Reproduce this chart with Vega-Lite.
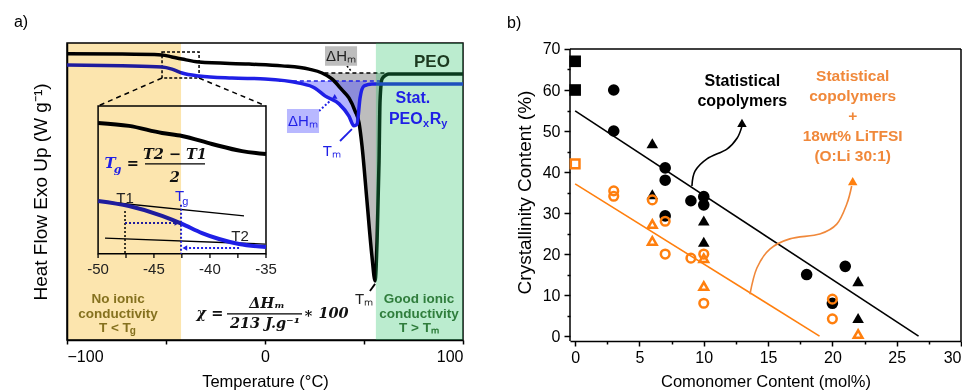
{
  "$schema": "https://vega.github.io/schema/vega-lite/v6.json",
  "background": "white",
  "padding": {"left": 13, "top": 13, "right": 0, "bottom": 0},
  "spacing": 36,
  "resolve": {"scale": {"shape": "independent", "color": "independent"}},
  "config": {
    "font": "Liberation Sans",
    "view": {"stroke": "black", "strokeWidth": 1.5},
    "axis": {"domainColor": "black", "domainWidth": 1.5, "tickColor": "black", "tickWidth": 1.5, "labelColor": "black", "titleColor": "black", "titleFontWeight": "normal", "grid": false}
  },
  "hconcat": [
    {
      "width": 396,
      "height": 297,
      "layer": [
        {
          "data": {"values": [{"x": -84.3, "x2": 0.5, "y": 78.8, "y2": 29.0}]},
          "mark": {"type": "rect", "fill": "white", "stroke": "black", "strokeWidth": 1.5},
          "encoding": {
            "x": {"field": "x", "type": "quantitative", "scale": {"domain": [-100, 100], "nice": false, "zero": false},
                  "axis": {"title": "Temperature (°C)", "values": [-100, -50, 0, 50, 100], "labelExpr": "datum.value % 100 === 0 ? datum.label : ''", "tickSize": 4, "labelFontSize": 16, "titleFontSize": 16.5, "labelPadding": 4, "titlePadding": 9}},
            "x2": {"field": "x2"},
            "y": {"field": "y", "type": "quantitative", "scale": {"domain": [0, 100], "nice": false, "zero": false},
                  "axis": {"title": "Heat Flow Exo Up  (W g⁻¹)", "labels": false, "ticks": false, "titleFontSize": 19, "titlePadding": 17}},
            "y2": {"field": "y2"}
          }
        },
        {
          "data": {"values": [{"x": -123.2, "y": 107.1, "t": "a)"}]},
          "mark": {"type": "text", "fontSize": 16, "color": "black", "align": "center", "baseline": "middle"},
          "encoding": {"x": {"field": "x", "type": "quantitative"}, "y": {"field": "y", "type": "quantitative"}, "text": {"field": "t"}}
        },
        {
          "data": {"values": [
            {"x": -84.3}, {"x": -70.2}, {"x": -56.1}, {"x": -42.0}, {"x": -27.8}, {"x": -13.7}, {"x": 0.5}
          ]},
          "mark": {"type": "rule", "color": "black", "strokeWidth": 1.3},
          "encoding": {"x": {"field": "x", "type": "quantitative"}, "y": {"datum": 29.0}, "y2": {"datum": 27.6}}
        },
        {
          "data": {"values": [{"x": -52, "x2": -33.3, "y": 97.0, "y2": 88.2}]},
          "mark": {"type": "rect", "fillOpacity": 0, "stroke": "black", "strokeWidth": 1.5, "strokeDash": [3, 2]},
          "encoding": {"x": {"field": "x", "type": "quantitative"}, "x2": {"field": "x2"}, "y": {"field": "y", "type": "quantitative"}, "y2": {"field": "y2"}}
        },
        {
          "data": {"values": [{"x": -52, "y": 88.2, "x2": -84.3, "y2": 78.8}, {"x": -33.3, "y": 88.2, "x2": 0.5, "y2": 78.8}]},
          "mark": {"type": "rule", "color": "black", "strokeWidth": 1.5, "strokeDash": [5, 4]},
          "encoding": {"x": {"field": "x", "type": "quantitative"}, "x2": {"field": "x2"}, "y": {"field": "y", "type": "quantitative"}, "y2": {"field": "y2"}}
        },
        {
          "data": {"values": [
            {"x": 28.8, "y": 89.9}, {"x": 33.8, "y": 87.9}, {"x": 38.9, "y": 84.2}, {"x": 42.4, "y": 81.5}, {"x": 45.5, "y": 77.1},
            {"x": 47.5, "y": 73.1}, {"x": 49.0, "y": 65.3}, {"x": 51.5, "y": 46.8}, {"x": 54.0, "y": 28.3}, {"x": 55.6, "y": 19.9},
            {"x": 56.6, "y": 33.3}, {"x": 57.6, "y": 60.3}, {"x": 58.1, "y": 80.5}, {"x": 59.1, "y": 87.9}, {"x": 60.6, "y": 89.9}
          ]},
          "mark": {"type": "area", "color": "#bdbdbd", "opacity": 1},
          "encoding": {"x": {"field": "x", "type": "quantitative"}, "y": {"field": "y", "type": "quantitative"}, "y2": {"datum": 89.9}}
        },
        {
          "data": {"values": [
            {"x": 7.1, "y": 87.2}, {"x": 17.2, "y": 86.5}, {"x": 25.3, "y": 84.8}, {"x": 30.3, "y": 82.2}, {"x": 37.4, "y": 79.5},
            {"x": 42.4, "y": 75.4}, {"x": 44.9, "y": 72.1}, {"x": 46.5, "y": 72.7}, {"x": 48.0, "y": 81.5}, {"x": 50.0, "y": 85.5}, {"x": 51.5, "y": 87.0}
          ]},
          "mark": {"type": "area", "color": "#4b4bff", "opacity": 0.42},
          "encoding": {"x": {"field": "x", "type": "quantitative"}, "y": {"field": "y", "type": "quantitative"}, "y2": {"datum": 87.2}}
        },
        {
          "data": {"values": [{"x": 30, "x2": 61, "y": 89.9}]},
          "mark": {"type": "rule", "color": "black", "strokeWidth": 1.5, "strokeDash": [4, 3]},
          "encoding": {"x": {"field": "x", "type": "quantitative"}, "x2": {"field": "x2"}, "y": {"field": "y", "type": "quantitative"}}
        },
        {
          "data": {"values": [{"x": 7, "x2": 59, "y": 87.2}]},
          "mark": {"type": "rule", "color": "#1f1fe6", "strokeWidth": 1.5, "strokeDash": [4, 3]},
          "encoding": {"x": {"field": "x", "type": "quantitative"}, "x2": {"field": "x2"}, "y": {"field": "y", "type": "quantitative"}}
        },
        {
          "data": {"values": [
            {"x": -100, "y": 96.4}, {"x": -72.2, "y": 96.3}, {"x": -52, "y": 96.0}, {"x": -47, "y": 95.3}, {"x": -41.9, "y": 94.6},
            {"x": -33.3, "y": 93.6}, {"x": -8.1, "y": 92.9}, {"x": 8.6, "y": 92.3}, {"x": 22.2, "y": 91.2}, {"x": 28.8, "y": 89.9},
            {"x": 33.8, "y": 87.9}, {"x": 38.9, "y": 84.2}, {"x": 42.4, "y": 81.5}, {"x": 45.5, "y": 77.1}, {"x": 47.5, "y": 73.1},
            {"x": 49.0, "y": 65.3}, {"x": 51.5, "y": 46.8}, {"x": 54.0, "y": 28.3}, {"x": 55.6, "y": 19.9}, {"x": 56.6, "y": 33.3},
            {"x": 57.6, "y": 60.3}, {"x": 58.1, "y": 80.5}, {"x": 59.1, "y": 87.9}, {"x": 61.1, "y": 89.2}, {"x": 62.5, "y": 89.6}, {"x": 100, "y": 89.6}
          ]},
          "mark": {"type": "line", "color": "black", "strokeWidth": 3.5, "interpolate": "monotone"},
          "encoding": {"x": {"field": "x", "type": "quantitative"}, "y": {"field": "y", "type": "quantitative"}}
        },
        {
          "data": {"values": [
            {"x": -100, "y": 92.6}, {"x": -72.2, "y": 92.3}, {"x": -52, "y": 91.9}, {"x": -47, "y": 91.2}, {"x": -41.9, "y": 89.9},
            {"x": -33.3, "y": 88.9}, {"x": -16.7, "y": 88.2}, {"x": 0, "y": 87.9}, {"x": 17.2, "y": 86.5}, {"x": 25.3, "y": 84.8},
            {"x": 30.3, "y": 82.2}, {"x": 37.4, "y": 79.5}, {"x": 42.4, "y": 75.4}, {"x": 44.9, "y": 72.1}, {"x": 46.5, "y": 72.7},
            {"x": 48.0, "y": 81.5}, {"x": 50.0, "y": 85.5}, {"x": 54.0, "y": 86.2}, {"x": 100, "y": 86.2}
          ]},
          "mark": {"type": "line", "color": "#1f1fe6", "strokeWidth": 3.5, "interpolate": "monotone"},
          "encoding": {"x": {"field": "x", "type": "quantitative"}, "y": {"field": "y", "type": "quantitative"}}
        },
        {
          "data": {"values": [
            {"x": -84.3, "y": 73.1}, {"x": -68.7, "y": 72.1}, {"x": -52, "y": 69.7}, {"x": -41.9, "y": 68.7},
            {"x": -26.8, "y": 66.0}, {"x": -11.6, "y": 63.6}, {"x": 0.5, "y": 62.6}
          ]},
          "mark": {"type": "line", "color": "black", "strokeWidth": 4, "interpolate": "monotone"},
          "encoding": {"x": {"field": "x", "type": "quantitative"}, "y": {"field": "y", "type": "quantitative"}}
        },
        {
          "data": {"values": [{"x": -84.3, "y": 46.8, "x2": -10.6, "y2": 41.8}, {"x": -80.8, "y": 34.3, "x2": 0, "y2": 32.3}]},
          "mark": {"type": "rule", "color": "black", "strokeWidth": 1.3},
          "encoding": {"x": {"field": "x", "type": "quantitative"}, "x2": {"field": "x2"}, "y": {"field": "y", "type": "quantitative"}, "y2": {"field": "y2"}}
        },
        {
          "data": {"values": [
            {"x": -84.3, "y": 46.8}, {"x": -68.7, "y": 45.1}, {"x": -52, "y": 41.8}, {"x": -41.9, "y": 39.1},
            {"x": -31.8, "y": 36.0}, {"x": -23.2, "y": 34.0}, {"x": -13.1, "y": 32.3}, {"x": 0.5, "y": 31.3}
          ]},
          "mark": {"type": "line", "color": "#1f1fe6", "strokeWidth": 4, "interpolate": "monotone"},
          "encoding": {"x": {"field": "x", "type": "quantitative"}, "y": {"field": "y", "type": "quantitative"}}
        },
        {
          "data": {"values": [{"x": -70.7, "y": 43.4, "x2": -70.7, "y2": 29.0}, {"x": 41.4, "y": 92.3, "x2": 43.9, "y2": 90.2}]},
          "mark": {"type": "rule", "color": "black", "strokeWidth": 1.5, "strokeDash": [2, 2]},
          "encoding": {"x": {"field": "x", "type": "quantitative"}, "x2": {"field": "x2"}, "y": {"field": "y", "type": "quantitative"}, "y2": {"field": "y2"}}
        },
        {
          "data": {"values": [
            {"x": -42.4, "y": 45.5, "x2": -42.4, "y2": 29.0}, {"x": -70.7, "y": 39.4, "x2": -45, "y2": 39.4},
            {"x": -13.1, "y": 31.0, "x2": -40, "y2": 31.0}, {"x": 27.3, "y": 77.1, "x2": 34.5, "y2": 81.5}
          ]},
          "mark": {"type": "rule", "color": "#1f1fe6", "strokeWidth": 2, "strokeDash": [2, 2]},
          "encoding": {"x": {"field": "x", "type": "quantitative"}, "x2": {"field": "x2"}, "y": {"field": "y", "type": "quantitative"}, "y2": {"field": "y2"}}
        },
        {
          "data": {"values": [{"x": 37.9, "y": 67.0, "x2": 43.9, "y2": 71.0}]},
          "mark": {"type": "rule", "color": "#1f1fe6", "strokeWidth": 1.8},
          "encoding": {"x": {"field": "x", "type": "quantitative"}, "x2": {"field": "x2"}, "y": {"field": "y", "type": "quantitative"}, "y2": {"field": "y2"}}
        },
        {
          "data": {"values": [{"x": 53.0, "y": 16.5, "x2": 55.6, "y2": 18.9}]},
          "mark": {"type": "rule", "color": "black", "strokeWidth": 1.8},
          "encoding": {"x": {"field": "x", "type": "quantitative"}, "x2": {"field": "x2"}, "y": {"field": "y", "type": "quantitative"}, "y2": {"field": "y2"}}
        },
        {
          "data": {"values": [{"x": -44.5, "y": 39.4, "d": "right"}, {"x": -40.5, "y": 31.0, "d": "left"}, {"x": 35.2, "y": 82.0, "d": "up"}]},
          "mark": {"type": "point", "filled": true, "color": "#1f1fe6", "size": 30, "opacity": 1},
          "encoding": {"x": {"field": "x", "type": "quantitative"}, "y": {"field": "y", "type": "quantitative"},
                       "shape": {"field": "d", "type": "nominal", "scale": {"domain": ["right", "left", "up"], "range": ["triangle-right", "triangle-left", "triangle-up"]}, "legend": null}}
        },
        {
          "data": {"values": [{"x": 30.3, "x2": 46.5, "y": 98.9, "y2": 92.3}]},
          "mark": {"type": "rect", "color": "#bdbdbd"},
          "encoding": {"x": {"field": "x", "type": "quantitative"}, "x2": {"field": "x2"}, "y": {"field": "y", "type": "quantitative"}, "y2": {"field": "y2"}}
        },
        {
          "data": {"values": [{"x": 11.1, "x2": 27.3, "y": 77.8, "y2": 69.7}]},
          "mark": {"type": "rect", "color": "#b8b8ff"},
          "encoding": {"x": {"field": "x", "type": "quantitative"}, "x2": {"field": "x2"}, "y": {"field": "y", "type": "quantitative"}, "y2": {"field": "y2"}}
        },
        {
          "data": {"values": [{"x": -100, "x2": -42.4}]},
          "mark": {"type": "rect", "color": "#fce5ae", "opacity": 1, "blend": "multiply"},
          "encoding": {"x": {"field": "x", "type": "quantitative"}, "x2": {"field": "x2"}, "y": {"datum": 0}, "y2": {"datum": 100}}
        },
        {
          "data": {"values": [{"x": 56, "x2": 100}]},
          "mark": {"type": "rect", "color": "#1fc060", "opacity": 0.3},
          "encoding": {"x": {"field": "x", "type": "quantitative"}, "x2": {"field": "x2"}, "y": {"datum": 0}, "y2": {"datum": 100}}
        },
        {
          "data": {"values": [
            {"x": -70.7, "y": 47.8, "t": "T1"}, {"x": -12.6, "y": 35.0, "t": "T2"},
            {"x": -84.3, "y": 23.9, "t": "-50"}, {"x": -56.1, "y": 23.9, "t": "-45"}, {"x": -27.8, "y": 23.9, "t": "-40"}, {"x": 0.5, "y": 23.9, "t": "-35"},
            {"x": 38.4, "y": 95.6, "t": "ΔHₘ"}, {"x": 50.0, "y": 13.8, "t": "Tₘ"}
          ]},
          "mark": {"type": "text", "fontSize": 15, "color": "#222222", "align": "center", "baseline": "middle"},
          "encoding": {"x": {"field": "x", "type": "quantitative"}, "y": {"field": "y", "type": "quantitative"}, "text": {"field": "t"}}
        },
        {
          "data": {"values": [{"x": 19.2, "y": 73.7, "t": "ΔHₘ"}, {"x": 33.8, "y": 63.6, "t": "Tₘ"}, {"x": -43.2, "y": 48.5, "t": "T"}]},
          "mark": {"type": "text", "fontSize": 15, "color": "#1f1fe6", "align": "center", "baseline": "middle"},
          "encoding": {"x": {"field": "x", "type": "quantitative"}, "y": {"field": "y", "type": "quantitative"}, "text": {"field": "t"}}
        },
        {
          "data": {"values": [{"x": -40.3, "y": 46.4, "t": "g"}]},
          "mark": {"type": "text", "fontSize": 11, "color": "#1f1fe6", "align": "center", "baseline": "middle"},
          "encoding": {"x": {"field": "x", "type": "quantitative"}, "y": {"field": "y", "type": "quantitative"}, "text": {"field": "t"}}
        },
        {
          "data": {"values": [{"x": 74.7, "y": 81.5, "t": "Stat."}]},
          "mark": {"type": "text", "fontSize": 16, "fontWeight": "bold", "color": "#1f1fe6", "align": "center", "baseline": "middle"},
          "encoding": {"x": {"field": "x", "type": "quantitative"}, "y": {"field": "y", "type": "quantitative"}, "text": {"field": "t"}}
        },
        {
          "data": {"values": [{"x": 62.6, "y": 74.4, "t": "PEO"}, {"x": 83.2, "y": 74.4, "t": "R"}]},
          "mark": {"type": "text", "fontSize": 16, "fontWeight": "bold", "color": "#1f1fe6", "align": "left", "baseline": "middle"},
          "encoding": {"x": {"field": "x", "type": "quantitative"}, "y": {"field": "y", "type": "quantitative"}, "text": {"field": "t"}}
        },
        {
          "data": {"values": [{"x": 79.8, "y": 72.6, "t": "x"}, {"x": 89.0, "y": 72.6, "t": "y"}]},
          "mark": {"type": "text", "fontSize": 11, "fontWeight": "bold", "color": "#1f1fe6", "align": "left", "baseline": "middle"},
          "encoding": {"x": {"field": "x", "type": "quantitative"}, "y": {"field": "y", "type": "quantitative"}, "text": {"field": "t"}}
        },
        {
          "data": {"values": [{"x": 84.3, "y": 93.6, "t": "PEO"}]},
          "mark": {"type": "text", "fontSize": 17, "fontWeight": "bold", "color": "#1c3a20", "align": "center", "baseline": "middle"},
          "encoding": {"x": {"field": "x", "type": "quantitative"}, "y": {"field": "y", "type": "quantitative"}, "text": {"field": "t"}}
        },
        {
          "data": {"values": [{"x": -74.2, "y": 13.8, "t": "No ionic"}, {"x": -74.2, "y": 8.8, "t": "conductivity"}, {"x": -75.8, "y": 4.0, "t": "T < T"}]},
          "mark": {"type": "text", "fontSize": 13.5, "fontWeight": "bold", "color": "#85711f", "align": "center", "baseline": "middle"},
          "encoding": {"x": {"field": "x", "type": "quantitative"}, "y": {"field": "y", "type": "quantitative"}, "text": {"field": "t"}}
        },
        {
          "data": {"values": [{"x": -66.8, "y": 2.9, "t": "g"}]},
          "mark": {"type": "text", "fontSize": 10, "fontWeight": "bold", "color": "#85711f", "align": "center", "baseline": "middle"},
          "encoding": {"x": {"field": "x", "type": "quantitative"}, "y": {"field": "y", "type": "quantitative"}, "text": {"field": "t"}}
        },
        {
          "data": {"values": [{"x": 77.8, "y": 13.8, "t": "Good ionic"}, {"x": 77.8, "y": 8.8, "t": "conductivity"}, {"x": 77.8, "y": 4.0, "t": "T > Tₘ"}]},
          "mark": {"type": "text", "fontSize": 13.5, "fontWeight": "bold", "color": "#2f7d3c", "align": "center", "baseline": "middle"},
          "encoding": {"x": {"field": "x", "type": "quantitative"}, "y": {"field": "y", "type": "quantitative"}, "text": {"field": "t"}}
        },
        {
          "data": {"values": [{"x": -60.6, "x2": -30.3, "y": 59.3}, {"x": -19.2, "x2": 18.7, "y": 8.8}]},
          "mark": {"type": "rule", "color": "black", "strokeWidth": 1.2},
          "encoding": {"x": {"field": "x", "type": "quantitative"}, "x2": {"field": "x2"}, "y": {"field": "y", "type": "quantitative"}}
        },
        {
          "data": {"values": [
            {"x": -45.5, "y": 62.4, "t": "T2 − T1"}, {"x": -45.5, "y": 54.6, "t": "2"},
            {"x": -27.8, "y": 8.8, "t": "χ ="}, {"x": 1.0, "y": 12.2, "t": "ΔHₘ"}, {"x": 0, "y": 5.3, "t": "213 J.g⁻¹"}, {"x": 30.8, "y": 8.8, "t": "∗ 100"},
            {"x": -66.7, "y": 59.3, "t": "="}
          ]},
          "mark": {"type": "text", "font": "DejaVu Serif", "fontSize": 14.5, "fontWeight": "bold", "fontStyle": "italic", "color": "#111111", "align": "center", "baseline": "middle"},
          "encoding": {"x": {"field": "x", "type": "quantitative"}, "y": {"field": "y", "type": "quantitative"}, "text": {"field": "t"}}
        },
        {
          "data": {"values": [{"x": -78.3, "y": 59.5, "t": "T"}]},
          "mark": {"type": "text", "font": "DejaVu Serif", "fontSize": 15, "fontWeight": "bold", "fontStyle": "italic", "color": "#1f1fe6", "align": "center", "baseline": "middle"},
          "encoding": {"x": {"field": "x", "type": "quantitative"}, "y": {"field": "y", "type": "quantitative"}, "text": {"field": "t"}}
        },
        {
          "data": {"values": [{"x": -74.4, "y": 57.2, "t": "g"}]},
          "mark": {"type": "text", "font": "DejaVu Serif", "fontSize": 11, "fontWeight": "bold", "fontStyle": "italic", "color": "#1f1fe6", "align": "center", "baseline": "middle"},
          "encoding": {"x": {"field": "x", "type": "quantitative"}, "y": {"field": "y", "type": "quantitative"}, "text": {"field": "t"}}
        }
      ]
    },
    {
      "width": 391,
      "height": 298,
      "view": {"stroke": null},
      "resolve": {"axis": {"x": "independent", "y": "independent"}},
      "layer": [
        {
          "data": {"values": [{"fit": "neat", "x": 0, "y": 54.9}, {"fit": "neat", "x": 26.7, "y": 0}, {"fit": "salt", "x": 0, "y": 37.1}, {"fit": "salt", "x": 19.0, "y": 0}]},
          "mark": {"type": "line", "strokeWidth": 1.6},
          "encoding": {
            "x": {"field": "x", "type": "quantitative", "scale": {"domain": [-0.4, 30], "nice": false, "zero": false},
                  "axis": {"orient": "bottom", "title": "Comonomer Content (mol%)", "values": [0, 5, 10, 15, 20, 25, 30], "tickSize": 5, "labelFontSize": 16, "titleFontSize": 16.5, "labelPadding": 3, "titlePadding": 8}},
            "y": {"field": "y", "type": "quantitative", "scale": {"domain": [-1.2, 71.46], "nice": false, "zero": false},
                  "axis": {"orient": "left", "title": "Crystallinity Content (%)", "values": [0, 10, 20, 30, 40, 50, 60, 70], "domain": false, "tickSize": 6, "labelFontSize": 16, "titleFontSize": 19, "labelPadding": 4, "titlePadding": 8}},
            "color": {"field": "fit", "type": "nominal", "scale": {"domain": ["neat", "salt"], "range": ["black", "#ff7f0e"]}, "legend": null}
          }
        },
        {
          "data": {"values": [{"x": 0, "y": 0}]},
          "mark": {"type": "point", "opacity": 0},
          "encoding": {
            "x": {"field": "x", "type": "quantitative", "axis": {"orient": "bottom", "values": [2.5, 7.5, 12.5, 17.5, 22.5, 27.5], "tickSize": 3, "labels": false, "domain": false, "title": null}},
            "y": {"field": "y", "type": "quantitative", "axis": {"orient": "left", "values": [5, 15, 25, 35, 45, 55, 65], "tickSize": 3, "labels": false, "domain": false, "title": null}}
          }
        },
        {
          "data": {"values": [
            {"x": -0.4, "y": -1.2, "x2": -0.4, "y2": 70}, {"x": 30, "y": -1.2, "x2": 30, "y2": 70}, {"x": -0.4, "y": 70, "x2": 30, "y2": 70}
          ]},
          "mark": {"type": "rule", "color": "black", "strokeWidth": 1.5},
          "encoding": {"x": {"field": "x", "type": "quantitative", "axis": null}, "x2": {"field": "x2"}, "y": {"field": "y", "type": "quantitative", "axis": null}, "y2": {"field": "y2"}}
        },
        {
          "data": {"values": [{"x": -4.74, "y": 76.3, "t": "b)"}]},
          "mark": {"type": "text", "fontSize": 16, "color": "black", "align": "center", "baseline": "middle"},
          "encoding": {"x": {"field": "x", "type": "quantitative", "axis": null}, "y": {"field": "y", "type": "quantitative", "axis": null}, "text": {"field": "t"}}
        },
        {
          "data": {"values": [
            {"m": "square", "x": 0, "y": 67}, {"m": "square", "x": 0, "y": 60},
            {"m": "circle", "x": 3, "y": 60}, {"m": "circle", "x": 3, "y": 50}, {"m": "circle", "x": 7, "y": 41}, {"m": "circle", "x": 7, "y": 38},
            {"m": "circle", "x": 9, "y": 33}, {"m": "circle", "x": 10, "y": 34}, {"m": "circle", "x": 10, "y": 32}, {"m": "circle", "x": 7, "y": 29.3},
            {"m": "circle", "x": 18, "y": 15}, {"m": "circle", "x": 21, "y": 17}, {"m": "circle", "x": 20, "y": 8},
            {"m": "triangle", "x": 6, "y": 47}, {"m": "triangle", "x": 6, "y": 34.6}, {"m": "triangle", "x": 10, "y": 28.2}, {"m": "triangle", "x": 10, "y": 23},
            {"m": "triangle", "x": 22, "y": 13.4}, {"m": "triangle", "x": 22, "y": 4.4}
          ]},
          "mark": {"type": "point", "filled": true, "color": "black", "size": 135, "opacity": 1},
          "encoding": {
            "x": {"field": "x", "type": "quantitative", "axis": null},
            "y": {"field": "y", "type": "quantitative", "axis": null},
            "shape": {"field": "m", "type": "nominal", "scale": {"domain": ["square", "circle", "triangle"], "range": ["square", "circle", "triangle-up"]}, "legend": null}
          }
        },
        {
          "data": {"values": [
            {"m": "square", "x": 0, "y": 42},
            {"m": "circle", "x": 3, "y": 35.4}, {"m": "circle", "x": 3, "y": 34.1}, {"m": "circle", "x": 6, "y": 33.2}, {"m": "circle", "x": 7, "y": 28},
            {"m": "circle", "x": 7, "y": 20}, {"m": "circle", "x": 9, "y": 19}, {"m": "circle", "x": 10, "y": 20}, {"m": "circle", "x": 10, "y": 8},
            {"m": "circle", "x": 20, "y": 9}, {"m": "circle", "x": 20, "y": 4.2},
            {"m": "triangle", "x": 6, "y": 27.3}, {"m": "triangle", "x": 6, "y": 23.2}, {"m": "triangle", "x": 10, "y": 19}, {"m": "triangle", "x": 10, "y": 12.2},
            {"m": "triangle", "x": 22, "y": 0.5}
          ]},
          "mark": {"type": "point", "filled": false, "color": "#ff7f0e", "strokeWidth": 2.5, "size": 75, "opacity": 1},
          "encoding": {
            "x": {"field": "x", "type": "quantitative", "axis": null},
            "y": {"field": "y", "type": "quantitative", "axis": null},
            "shape": {"field": "m", "type": "nominal", "legend": null}
          }
        },
        {
          "data": {"values": [
            {"x": 9.08, "y": 36.6}, {"x": 9.32, "y": 40.2}, {"x": 10.25, "y": 43.2}, {"x": 11.8, "y": 45.6}, {"x": 12.6, "y": 48.3}, {"x": 12.97, "y": 51.2}
          ]},
          "mark": {"type": "line", "color": "black", "strokeWidth": 1.6, "interpolate": "cardinal"},
          "encoding": {"x": {"field": "x", "type": "quantitative", "axis": null}, "y": {"field": "y", "type": "quantitative", "axis": null}}
        },
        {
          "data": {"values": [
            {"x": 13.59, "y": 10.2}, {"x": 14.13, "y": 16.6}, {"x": 15.14, "y": 21.2}, {"x": 16.69, "y": 23.7}, {"x": 19.02, "y": 24.9},
            {"x": 20.34, "y": 27.3}, {"x": 21.12, "y": 32.2}, {"x": 21.5, "y": 36.6}
          ]},
          "mark": {"type": "line", "color": "#f0883a", "strokeWidth": 1.6, "interpolate": "cardinal"},
          "encoding": {"x": {"field": "x", "type": "quantitative", "axis": null}, "y": {"field": "y", "type": "quantitative", "axis": null}}
        },
        {
          "data": {"values": [{"x": 12.97, "y": 52.0, "fit": "neat"}, {"x": 21.58, "y": 37.8, "fit": "salt"}]},
          "mark": {"type": "point", "filled": true, "shape": "triangle-up", "size": 90, "opacity": 1},
          "encoding": {"x": {"field": "x", "type": "quantitative", "axis": null}, "y": {"field": "y", "type": "quantitative", "axis": null},
                       "color": {"field": "fit", "type": "nominal", "legend": null}}
        },
        {
          "data": {"values": [{"x": 13.0, "y": 62.2, "t": "Statistical"}, {"x": 13.0, "y": 57.3, "t": "copolymers"}]},
          "mark": {"type": "text", "fontSize": 16, "fontWeight": "bold", "color": "black", "align": "center", "baseline": "middle"},
          "encoding": {"x": {"field": "x", "type": "quantitative", "axis": null}, "y": {"field": "y", "type": "quantitative", "axis": null}, "text": {"field": "t"}}
        },
        {
          "data": {"values": [
            {"x": 21.58, "y": 63.4, "t": "Statistical"}, {"x": 21.58, "y": 58.5, "t": "copolymers"}, {"x": 21.58, "y": 53.7, "t": "+"},
            {"x": 21.58, "y": 48.8, "t": "18wt% LiTFSI"}, {"x": 21.58, "y": 43.9, "t": "(O:Li 30:1)"}
          ]},
          "mark": {"type": "text", "fontSize": 15.5, "fontWeight": "bold", "color": "#f0883a", "align": "center", "baseline": "middle"},
          "encoding": {"x": {"field": "x", "type": "quantitative", "axis": null}, "y": {"field": "y", "type": "quantitative", "axis": null}, "text": {"field": "t"}}
        }
      ]
    }
  ]
}
